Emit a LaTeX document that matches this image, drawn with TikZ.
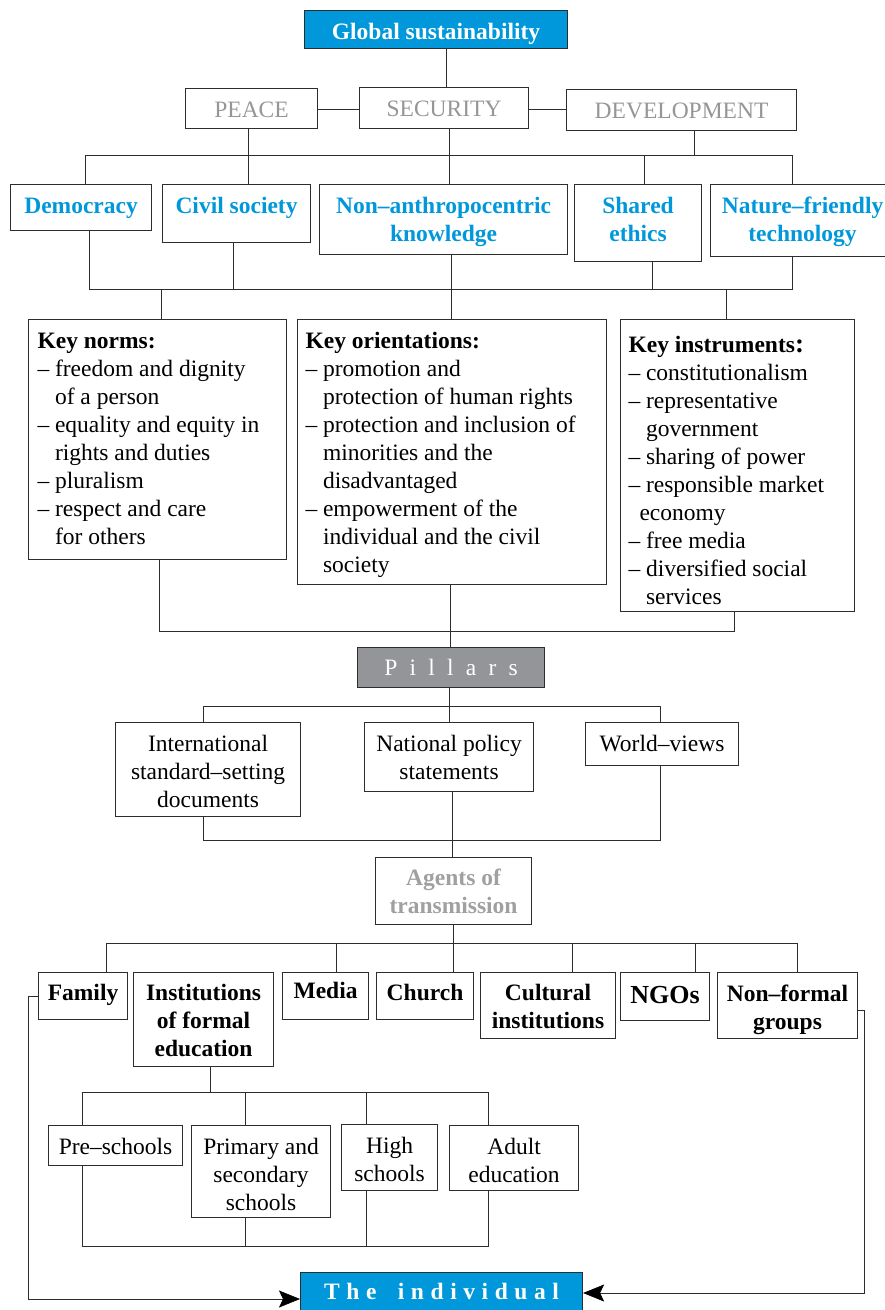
\documentclass[tikz,border=0pt]{standalone}
\usepackage{fontspec}
\setmainfont{Liberation Serif}
\usetikzlibrary{arrows.meta}
\definecolor{gsblue}{RGB}{0,152,218}
\definecolor{lgray}{RGB}{150,150,150}
\definecolor{agray}{RGB}{160,160,160}
\definecolor{pgray}{RGB}{147,149,152}
\definecolor{ln}{RGB}{45,45,45}
\tikzset{
  gbox/.style={draw=ln, line width=1.1pt, inner sep=0pt, font=\fontsize{23.5}{28}\selectfont},
  conn/.style={draw=ln, line width=0.9pt},
  arr/.style={conn, -{Stealth[length=21pt,width=17pt,inset=4pt,line width=0.6pt,fill=black,color=black]}},
  bluet/.style={text=gsblue, font=\fontsize{23.5}{28}\selectfont\bfseries},
  grayt/.style={text=lgray},
}
\newcommand{\bx}[7]{\pgfmathsetmacro\mybw{#4-#2}\pgfmathsetmacro\mybh{#5-#3}%
  \node[gbox,#6,anchor=north west] (#1) at (#2,#3) {\parbox[c][\mybh pt][t]{\mybw pt}{#7}};}
\newcommand{\ctr}[1]{\centering\rule{0pt}{29pt}#1}
\newcommand{\itm}[1]{\makebox[17.5pt][l]{–}#1}
\newcommand{\cnt}[1]{\hspace*{17.5pt}#1}
\begin{document}
\begin{tikzpicture}[x=1pt,y=-1pt]
\useasboundingbox (0,0) rectangle (885,1310);
\clip (0,0) rectangle (885,1310);
% ---- top
\bx{gs}{304}{10}{567}{48}{fill=gsblue,text=white,font=\fontsize{23.5}{28}\selectfont\bfseries}{\ctr{Global sustainability}}
\bx{peace}{185}{88}{317}{128}{grayt}{\ctr{PEACE}}
\bx{sec}{359}{87}{528}{128}{grayt}{\ctr{SECURITY}}
\bx{dev}{566}{89}{796}{130}{grayt}{\ctr{DEVELOPMENT}}
% ---- row 2
\bx{dem}{10}{184}{151}{230}{bluet}{\ctr{Democracy}}
\bx{civ}{162}{184}{310}{242}{bluet}{\ctr{Civil society}}
\bx{non}{319}{184}{567}{254}{bluet}{\ctr{Non–anthropocentric\\knowledge}}
\bx{sha}{574}{184}{701}{261}{bluet}{\ctr{Shared\\ethics}}
\bx{nat}{710}{184}{894}{256}{bluet}{\ctr{Nature–friendly\\technology}}
% ---- key boxes
\bx{norms}{28}{319}{286}{559}{}{\raggedright\leftskip=9pt\rule{0pt}{29pt}\textbf{Key norms:}\\
\itm{freedom and dignity}\\
\cnt{of a person}\\
\itm{equality and equity in}\\
\cnt{rights and duties}\\
\itm{pluralism}\\
\itm{respect and care}\\
\cnt{for others}}
\bx{ori}{297}{319}{606}{584}{}{\raggedright\leftskip=8pt\rule{0pt}{29pt}\textbf{Key orientations:}\\
\itm{promotion and}\\
\cnt{protection of human rights}\\
\itm{protection and inclusion of}\\
\cnt{minorities and the}\\
\cnt{disadvantaged}\\
\itm{empowerment of the}\\
\cnt{individual and the civil}\\
\cnt{society}}
\bx{ins}{620}{319}{854}{611}{}{\raggedright\leftskip=8pt\rule{0pt}{33pt}\textbf{Key instruments{\fontsize{27}{28}\selectfont:}}\\
\itm{constitutionalism}\\
\itm{representative}\\
\cnt{government}\\
\itm{sharing of power}\\
\itm{responsible market}\\
\hspace*{11pt}economy\\
\itm{free media}\\
\itm{diversified social}\\
\cnt{services}}
% ---- pillars
\bx{pil}{357}{647}{544}{687}{fill=pgray,text=white}{\centering\rule{0pt}{28pt}{\addfontfeature{LetterSpace=52}Pillars}}
\bx{intl}{115}{722}{300}{816}{}{\ctr{International\\standard–setting\\documents}}
\bx{npol}{364}{722}{533}{791}{}{\ctr{National policy\\statements}}
\bx{wv}{585}{722}{738}{765}{}{\ctr{World–views}}
\bx{ag}{375}{857}{531}{924}{text=agray,font=\fontsize{23.5}{28}\selectfont\bfseries}{\centering\rule{0pt}{28pt}Agents of\\transmission}
% ---- agents
\bx{fam}{38}{972}{127}{1019}{font=\fontsize{23.5}{28}\selectfont\bfseries}{\centering\rule{0pt}{28pt}Family}
\bx{inst}{133}{972}{273}{1066}{font=\fontsize{23.5}{28}\selectfont\bfseries}{\centering\rule{0pt}{28pt}Institutions\\of formal\\education}
\bx{media}{282}{972}{368}{1019}{font=\fontsize{23.5}{28}\selectfont\bfseries}{\centering\rule{0pt}{26pt}Media}
\bx{church}{376}{972}{473}{1019}{font=\fontsize{23.5}{28}\selectfont\bfseries}{\centering\rule{0pt}{28pt}Church}
\bx{cult}{480}{972}{615}{1038}{font=\fontsize{23.5}{28}\selectfont\bfseries}{\centering\rule{0pt}{28pt}Cultural\\institutions}
\bx{ngo}{620}{972}{709}{1020}{font=\fontsize{26}{28}\selectfont\bfseries}{\centering\rule{0pt}{31pt}NGOs}
\bx{nonf}{717}{972}{857}{1038}{font=\fontsize{23.5}{28}\selectfont\bfseries}{\centering\rule{0pt}{29pt}Non–formal\\groups}
% ---- schools
\bx{pre}{48}{1125}{182}{1165}{}{\ctr{Pre–schools}}
\bx{prim}{191}{1125}{330}{1217}{}{\ctr{Primary and\\secondary\\schools}}
\bx{high}{341}{1124}{437}{1190}{}{\ctr{High\\schools}}
\bx{adult}{449}{1125}{578}{1190}{}{\ctr{Adult\\education}}
% ---- individual
\bx{ind}{300}{1272}{582}{1322}{fill=gsblue,text=white,font=\fontsize{23.5}{28}\selectfont\bfseries}{\centering\rule{0pt}{27pt}{\addfontfeature{LetterSpace=28}The\hspace{9pt} individual}}
% ---- bus coordinates
\coordinate (b1) at (0,155);
\coordinate (b2) at (0,289);
\coordinate (b3) at (0,631);
\coordinate (b4) at (0,706);
\coordinate (b5) at (0,840);
\coordinate (b6) at (0,943);
\coordinate (b7) at (0,1092);
\coordinate (b8) at (0,1246);
\coordinate (al) at (28,0);
\coordinate (ar) at (864,0);
% ---- connectors top
\draw[conn] (446,0 |- gs.south) -- (446,0 |- sec.north);
\draw[conn] (peace.east |- 0,109) -- (sec.west |- 0,109);
\draw[conn] (sec.east |- 0,109) -- (dev.west |- 0,109);
\draw[conn] (85,0 |- dem.north) -- (85,0 |- b1) -- (792,0 |- b1) -- (792,0 |- nat.north);
\draw[conn] (248,0 |- peace.south) -- (248,0 |- civ.north);
\draw[conn] (449,0 |- sec.south) -- (449,0 |- non.north);
\draw[conn] (694,0 |- dev.south) -- (694,0 |- b1);
\draw[conn] (644,0 |- b1) -- (644,0 |- sha.north);
% ---- second bus
\draw[conn] (89,0 |- dem.south) -- (89,0 |- b2) -- (792,0 |- b2) -- (792,0 |- nat.south);
\draw[conn] (233,0 |- civ.south) -- (233,0 |- b2);
\draw[conn] (451,0 |- non.south) -- (451,0 |- ori.north);
\draw[conn] (652,0 |- sha.south) -- (652,0 |- b2);
\draw[conn] (161,0 |- b2) -- (161,0 |- norms.north);
\draw[conn] (726,0 |- b2) -- (726,0 |- ins.north);
% ---- third bus
\draw[conn] (159,0 |- norms.south) -- (159,0 |- b3) -- (734,0 |- b3) -- (734,0 |- ins.south);
\draw[conn] (450,0 |- ori.south) -- (450,0 |- pil.north);
% ---- pillars
\draw[conn] (449,0 |- pil.south) -- (449,0 |- npol.north);
\draw[conn] (203,0 |- intl.north) -- (203,0 |- b4) -- (660,0 |- b4) -- (660,0 |- wv.north);
\draw[conn] (203,0 |- intl.south) -- (203,0 |- b5) -- (660,0 |- b5) -- (660,0 |- wv.south);
\draw[conn] (452,0 |- npol.south) -- (452,0 |- ag.north);
% ---- agents
\draw[conn] (453,0 |- ag.south) -- (453,0 |- church.north);
\draw[conn] (106,0 |- fam.north) -- (106,0 |- b6) -- (797,0 |- b6) -- (797,0 |- nonf.north);
\draw[conn] (336,0 |- b6) -- (336,0 |- media.north);
\draw[conn] (572,0 |- b6) -- (572,0 |- cult.north);
\draw[conn] (695,0 |- b6) -- (695,0 |- ngo.north);
% ---- schools
\draw[conn] (210,0 |- inst.south) -- (210,0 |- b7);
\draw[conn] (82,0 |- pre.north) -- (82,0 |- b7) -- (488,0 |- b7) -- (488,0 |- adult.north);
\draw[conn] (245,0 |- b7) -- (245,0 |- prim.north);
\draw[conn] (366,0 |- b7) -- (366,0 |- high.north);
\draw[conn] (82,0 |- pre.south) -- (82,0 |- b8) -- (488,0 |- b8) -- (488,0 |- adult.south);
\draw[conn] (245,0 |- prim.south) -- (245,0 |- b8);
\draw[conn] (366,0 |- high.south) -- (366,0 |- b8);
% ---- arrows
\draw[arr] (fam.west |- 0,996) -- (al |- 0,996) -- (al |- 0,1299) -- (ind.west |- 0,1299);
\draw[arr] (nonf.east |- 0,1010) -- (ar |- 0,1010) -- (ar |- 0,1293) -- (ind.east |- 0,1293);
\end{tikzpicture}
\end{document}
